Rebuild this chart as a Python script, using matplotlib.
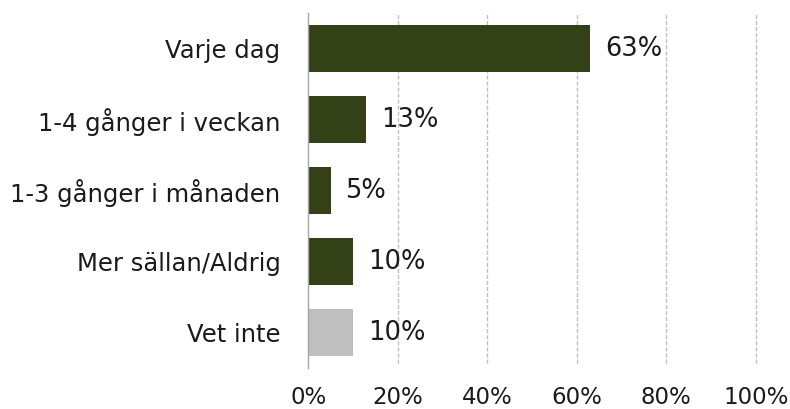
import matplotlib.pyplot as plt

categories = ['Varje dag', '1-4 gånger i veckan', '1-3 gånger i månaden',
              'Mer sällan/Aldrig', 'Vet inte']
values = [63, 13, 5, 10, 10]
colors = ['#344117', '#344117', '#344117', '#344117', '#BFBFBF']
ticks = [0, 20, 40, 60, 80, 100]

plt.rcParams['font.family'] = ['DejaVu Sans']

fig = plt.figure(figsize=(7.9, 4.09), dpi=100)
ax = fig.add_axes([0.3903, 0.1002, 0.5663, 0.8678])

y = list(range(len(categories)))
ax.barh(y, values, height=0.66, color=colors, zorder=3)

for yi, v in zip(y, values):
    ax.annotate(f'{v}%', (v, yi), xytext=(10.5, 0), textcoords='offset points',
                va='center', ha='left', fontsize=18.5, color='#1a1a1a')

ax.set_xlim(0, 100)
ax.set_ylim(len(categories) - 0.5, -0.5)
ax.set_yticks(y)
ax.set_yticklabels(categories)
ax.set_xticks(ticks)
ax.set_xticklabels([f'{t}%' for t in ticks])

ax.tick_params(axis='y', length=0, pad=20, labelsize=17.5, labelcolor='#1a1a1a')
ax.tick_params(axis='x', length=0, pad=13, labelsize=16.5, labelcolor='#1a1a1a')

# dashed vertical gridlines (not at 0)
for t in ticks[1:]:
    ax.axvline(t, ymin=0.014, ymax=1, color='#BFBFBF', linestyle=(0, (2.9, 1.45)),
               linewidth=1, zorder=0, clip_on=False)

for s in ['top', 'right', 'bottom']:
    ax.spines[s].set_visible(False)
ax.spines['left'].set_color('#A6A6A6')
ax.spines['left'].set_linewidth(1)
ax.spines['left'].set_zorder(4)

fig.savefig('out.png', dpi=100)
